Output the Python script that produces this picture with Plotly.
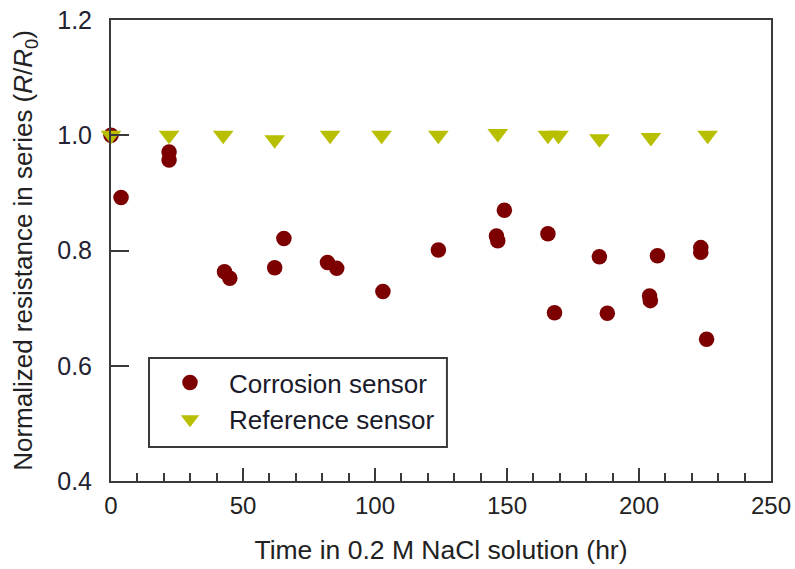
import plotly.graph_objects as go

# Corrosion sensor data (time in hr, normalized resistance R/R0)
corr_time = [0, 3.8, 22, 22, 43, 45, 62, 65.5, 82, 85.5, 103, 124, 146, 146.5, 149,
             165.5, 168, 185, 188, 204, 204.3, 207, 223.4, 223.4, 225.6]
corr_ratio = [1.0, 0.892, 0.971, 0.957, 0.763, 0.752, 0.770, 0.821, 0.779, 0.769, 0.729,
              0.801, 0.825, 0.817, 0.870, 0.829, 0.692, 0.789, 0.691, 0.721, 0.713,
              0.791, 0.805, 0.797, 0.646]

# Reference sensor data
ref_time = [0, 22, 42.5, 62, 83, 102.5, 124, 146.5, 165.5, 169.5, 185, 204.5, 226]
ref_ratio = [1.0, 1.0, 1.0, 0.992, 1.0, 1.0, 1.0, 1.003, 1.0, 1.0, 0.994, 0.996, 1.0]

x_ticks = [0, 50, 100, 150, 200, 250]
y_ticks = [0.4, 0.6, 0.8, 1.0, 1.2]

FONT = "Liberation Sans, Arial, sans-serif"
AXC = "#3a3a3a"

fig = go.Figure()
fig.add_trace(go.Scatter(
    x=corr_time, y=corr_ratio, mode="markers", name="Corrosion sensor",
    marker=dict(symbol="circle", size=15.5, color="#7d0000", line=dict(width=0)),
    cliponaxis=False,
))
fig.add_trace(go.Scatter(
    x=ref_time, y=ref_ratio, mode="markers", name="Reference sensor",
    marker=dict(symbol="triangle-down", size=18, color="#b8bf00", line=dict(width=0)),
    cliponaxis=False,
))

fig.update_layout(
    width=795, height=569,
    margin=dict(l=111, r=24, t=20, b=88, autoexpand=False),
    paper_bgcolor="white", plot_bgcolor="white",
    font=dict(family=FONT, size=24, color="#222222"),
    showlegend=True,
    legend=dict(
        x=0.0606, y=0.2646, xanchor="left", yanchor="top",
        bgcolor="rgba(0,0,0,0)", borderwidth=0,
        font=dict(family=FONT, size=26, color="#1a1a2a"),
        itemsizing="trace", itemwidth=68,
    ),
    shapes=[dict(type="rect", xref="paper", yref="paper",
                 x0=0.0576, x1=0.509, y0=0.0738, y1=0.2668,
                 line=dict(color=AXC, width=2), fillcolor="rgba(0,0,0,0)")],
)

fig.update_xaxes(
    range=[0, 250], tickvals=x_ticks, ticktext=[str(v) for v in x_ticks],
    showline=True, mirror=True, linecolor=AXC, linewidth=2,
    showgrid=False, zeroline=False, automargin=False,
    ticks="inside", ticklen=13, tickwidth=2, tickcolor=AXC,
    minor=dict(dtick=10, ticks="inside", ticklen=8, tickwidth=2, tickcolor=AXC, showgrid=False),
    tickfont=dict(family=FONT, size=24, color="#222222"),
    ticklabelstandoff=2, ticklabeloverflow="allow",
    title=dict(text="Time in 0.2 M NaCl solution (hr)", font=dict(family=FONT, size=26.5, color="#222222"), standoff=23),
)
fig.update_yaxes(
    range=[0.4, 1.2], tickvals=y_ticks, ticktext=[f"{v:.1f}" for v in y_ticks],
    showline=True, mirror=True, linecolor=AXC, linewidth=2,
    showgrid=False, zeroline=False, automargin=False,
    ticks="inside", ticklen=18, tickwidth=2, tickcolor=AXC,
    tickfont=dict(family=FONT, size=25, color="#222233"),
    ticklabelstandoff=12, ticklabeloverflow="allow",
    title=dict(text="Normalized resistance in series (<i>R</i>/<i>R</i><sub>0</sub>)",
               font=dict(family=FONT, size=26, color="#222222"), standoff=17),
)

# remove the page's default 8px body margin so the figure fills the window
fig.write_html("out.html", config={"displayModeBar": False},
               post_script="document.body.style.margin='0';")
